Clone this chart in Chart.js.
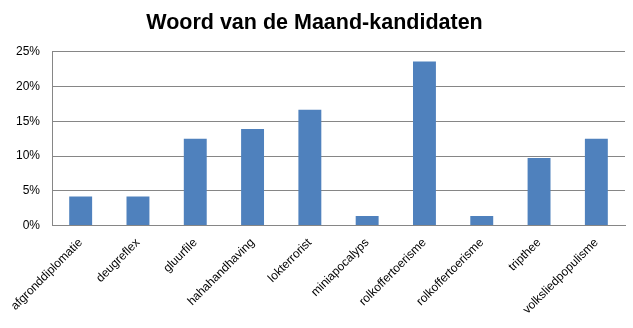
<!DOCTYPE html>
<html>
<head>
<meta charset="utf-8">
<script src="https://cdn.jsdelivr.net/npm/chart.js@4"></script>
<style>
  html, body { margin: 0; padding: 0; background: #fff; }
  #wrap { width: 633px; height: 328px; }
</style>
</head>
<body>
<div id="wrap"><canvas id="grafiek"></canvas></div>
<script>
const woorden = ["afgronddiplomatie", "deugreflex", "gluurfile", "hahahandhaving", "lokterrorist",
  "miniapocalyps", "rolkoffertoerisme", "rolkoffertoerisme", "tripthee", "volksliedpopulisme"];
const percentages = [4.17, 4.17, 12.5, 13.89, 16.67, 1.39, 23.61, 1.39, 9.72, 12.5];
const yTicks = [0, 5, 10, 15, 20, 25];

const ctx = document.getElementById("grafiek").getContext("2d");
new Chart(ctx, {
  type: "bar",
  data: {
    labels: woorden,
    datasets: [{
      label: "Woord van de Maand",
      data: percentages,
      backgroundColor: "#4f81bd",
      barPercentage: 0.4,
      categoryPercentage: 1.0
    }]
  },
  options: {
    responsive: true,
    maintainAspectRatio: false,
    animation: false,
    layout: { padding: { left: 4, right: 8, top: 10, bottom: 1 } },
    plugins: {
      legend: { display: false },
      tooltip: { enabled: false },
      title: {
        display: true,
        text: "Woord van de Maand-kandidaten",
        color: "#000",
        font: { family: "Liberation Sans", size: 21.5, weight: "bold" },
        padding: { top: 0, bottom: 16 }
      }
    },
    scales: {
      x: {
        grid: { display: false, drawTicks: false },
        border: { color: "#868686" },
        ticks: {
          color: "#000",
          font: { family: "Liberation Sans", size: 12 },
          maxRotation: 45,
          minRotation: 45,
          padding: 10
        }
      },
      y: {
        min: 0,
        max: 25,
        afterBuildTicks: axis => { axis.ticks = yTicks.map(v => ({ value: v })); },
        grid: { color: "#868686", drawTicks: false },
        border: { color: "#868686" },
        ticks: {
          color: "#000",
          font: { family: "Liberation Sans", size: 12 },
          padding: 12,
          callback: v => v + "%"
        }
      }
    }
  }
});
</script>
</body>
</html>
